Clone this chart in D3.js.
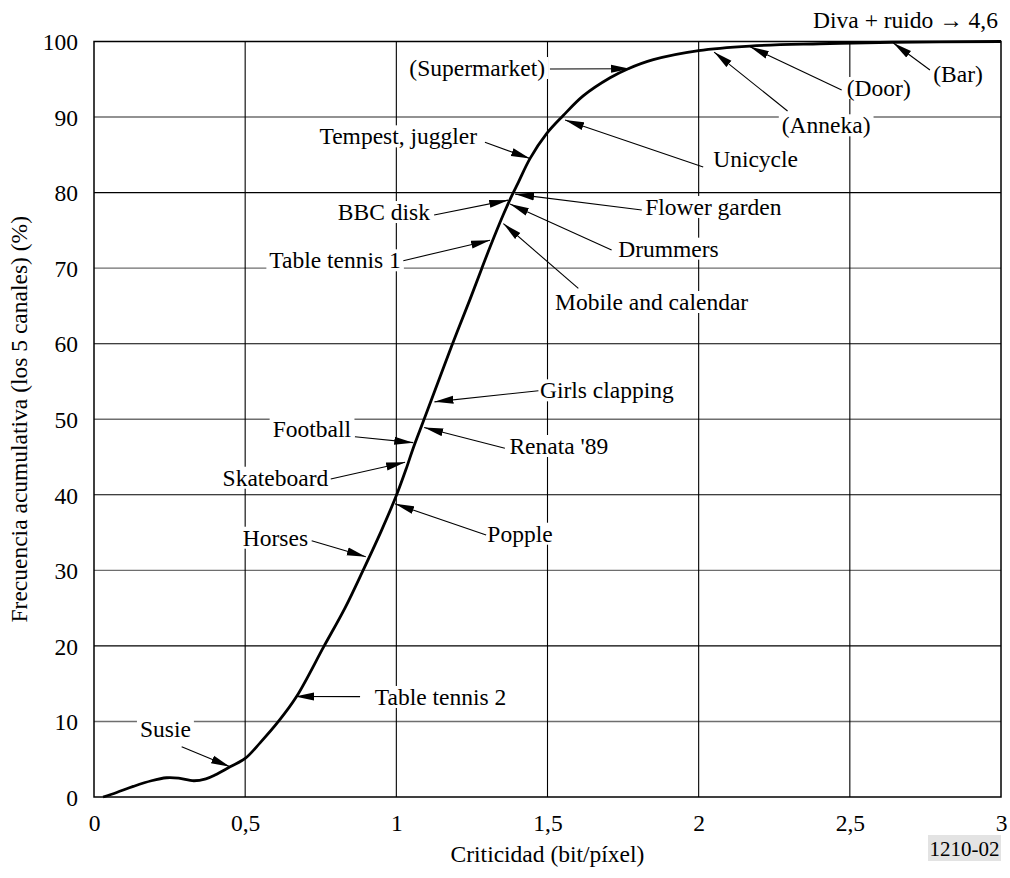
<!DOCTYPE html>
<html><head><meta charset="utf-8">
<script src="https://cdn.jsdelivr.net/npm/d3@7"></script>
<style>
body{margin:0;background:#fff}
svg text{font-family:"Liberation Serif","Times New Roman",serif;fill:#000}
</style>
</head><body><svg id="c" width="1010" height="878"></svg>
<script>
// ---- data ----
const crit = [0.03,0.075,0.13,0.19,0.24,0.28,0.33,0.37,0.4,0.45,0.5,0.55,0.61,0.67,0.76,0.83,0.89,0.95,1.0,1.034,1.056,1.089,1.122,1.183,1.244,1.282,1.31,1.354,1.382,1.404,1.442,1.497,1.552,1.618,1.707,1.767,1.85,2.0,2.17,2.4,2.64,3.0];
const freq = [0,0.6,1.4,2.15,2.55,2.5,2.15,2.4,2.9,4.0,5.1,7.2,10.0,13.3,19.9,25.0,30.0,35.2,39.9,43.6,46.2,49.7,53.2,59.7,65.9,69.9,72.8,77.1,79.6,81.4,84.5,87.8,90.2,92.8,95.2,96.4,97.6,98.8,99.4,99.7,99.9,100];
const xTicks = [0,0.5,1,1.5,2,2.5,3];
const xTickLabels = ["0","0,5","1","1,5","2","2,5","3"];
const yTicks = [0,10,20,30,40,50,60,70,80,90,100];
const yTickLabels = ["0","10","20","30","40","50","60","70","80","90","100"];
const annotNames = ["Susie","Table tennis 2","Horses","Popple","Skateboard","Football","Renata '89","Girls clapping","Table tennis 1","BBC disk","Tempest, juggler","Mobile and calendar","Drummers","Flower garden","Unicycle","(Supermarket)","(Anneka)","(Door)","(Bar)"];
const annotCrit = [0.450,0.665,0.899,0.996,1.029,1.056,1.092,1.126,1.310,1.370,1.442,1.354,1.376,1.393,1.558,1.773,2.051,2.170,2.644];
const annotFreq = [4.0,13.3,31.8,38.8,44.3,46.9,48.9,52.3,73.7,79.0,84.5,75.9,78.5,79.8,89.6,96.4,98.6,99.3,99.8];
// label layout in data units: [lineStartCrit, lineStartFreq, textCrit, textFreq, anchor]
const annotLayout = [
  [0.290,6.66,0.152,7.94,"start"],
  [0.880,13.28,0.929,12.18,"start"],
  [0.720,33.92,0.708,33.26,"end"],
  [1.297,34.68,1.301,33.79,"start"],
  [0.783,42.09,0.775,41.20,"end"],
  [0.863,47.69,0.850,47.69,"end"],
  [1.359,46.16,1.374,45.40,"start"],
  [1.470,53.78,1.475,52.77,"start"],
  [1.023,70.99,1.015,69.98,"end"],
  [1.125,77.04,1.111,76.37,"end"],
  [1.293,86.66,1.267,86.39,"end"],
  [1.602,67.33,1.525,64.46,"start"],
  [1.712,72.40,1.734,71.52,"start"],
  [1.812,77.70,1.823,77.04,"start"],
  [2.015,83.39,2.048,83.43,"start"],
  [1.508,96.36,1.492,95.43,"end"],
  [2.294,90.80,2.275,87.85,"start"],
  [2.473,93.58,2.490,92.79,"start"],
  [2.765,96.23,2.776,94.68,"start"]
];
const xTitle = "Criticidad (bit/píxel)";
const yTitle = "Frecuencia acumulativa (los 5 canales) (%)";
const topNote = "Diva + ruido \u2192 4,6";
const figId = "1210-02";

// ---- drawing ----
const FS = 23.5;
const svg = d3.select("#c");
const x = d3.scaleLinear().domain([0,3]).range([94,1001]);
const y = d3.scaleLinear().domain([0,100]).range([797,41.5]);

svg.append("defs").append("marker")
  .attr("id","ah").attr("viewBox","0 -4.5 19 9")
  .attr("markerWidth",19).attr("markerHeight",9)
  .attr("refX",19).attr("refY",0).attr("orient","auto")
  .attr("markerUnits","userSpaceOnUse")
  .append("path").attr("d","M0,-4L19,0L0,4Z").attr("fill","#000");

// grid
const grid = svg.append("g");
grid.selectAll("line.h").data(yTicks.filter(d=>d>0&&d<100)).join("line")
  .attr("x1",x(0)).attr("x2",x(3)).attr("y1",d=>y(d)).attr("y2",d=>y(d))
  .attr("stroke",d=>(d/10)%2===1?"#6e6e6e":"#000")
  .attr("stroke-width",d=>(d/10)%2===1?1.4:1.1);
grid.selectAll("line.v").data(xTicks.filter(d=>d>0&&d<3)).join("line")
  .attr("y1",y(0)).attr("y2",y(100)).attr("x1",d=>x(d)).attr("x2",d=>x(d))
  .attr("stroke","#000").attr("stroke-width",1.1);

// axes labels
const xa = svg.append("g").attr("transform",`translate(0,${y(0)})`)
  .call(d3.axisBottom(x).tickValues(xTicks).tickFormat((d,i)=>xTickLabels[i]).tickSize(0));
xa.select(".domain").remove();
xa.selectAll("text").attr("y",34).attr("dy",0).style("font-size",FS+"px")
  .style("font-family",'"Liberation Serif","Times New Roman",serif').attr("fill","#000");
const ya = svg.append("g").attr("transform",`translate(${x(0)},0)`)
  .call(d3.axisLeft(y).tickValues(yTicks).tickFormat((d,i)=>yTickLabels[i]).tickSize(0));
ya.select(".domain").remove();
ya.selectAll("text").attr("x",-16).attr("dy","0.35em").style("font-size",FS+"px")
  .style("font-family",'"Liberation Serif","Times New Roman",serif').attr("fill","#000");

// titles
svg.append("text").attr("x",(x(0)+x(3))/2).attr("y",862).attr("text-anchor","middle")
  .style("font-size",FS+"px").text(xTitle);
svg.append("text").attr("transform",`translate(27,${(y(0)+y(100))/2}) rotate(-90)`)
  .attr("text-anchor","middle").style("font-size",FS+"px").text(yTitle);
svg.append("text").attr("x",x(3)-3).attr("y",y(100)-14).attr("text-anchor","end")
  .style("font-size",FS+"px").text(topNote);
svg.append("rect").attr("x",928).attr("y",835).attr("width",73).attr("height",26).attr("fill","#e3e3e3");
svg.append("text").attr("x",964.5).attr("y",856).attr("text-anchor","middle")
  .style("font-size","21px").text(figId);

// annotation labels with white backgrounds
const ann = svg.append("g");
annotNames.forEach((name,i)=>{
  const L = annotLayout[i];
  const g = ann.append("g");
  const t = g.append("text").attr("x",x(L[2])).attr("y",y(L[3]))
    .attr("text-anchor",L[4]).style("font-size",FS+"px").text(name);
  const b = t.node().getBBox();
  g.insert("rect","text").attr("x",b.x-3).attr("y",b.y+2).attr("width",b.width+6).attr("height",b.height-4)
    .attr("fill","#fff");
});

// frame
svg.append("rect").attr("x",x(0)).attr("y",y(100)).attr("width",x(3)-x(0)).attr("height",y(0)-y(100))
  .attr("fill","none").attr("stroke","#000").attr("stroke-width",1.5);

// curve
const line = d3.line().x((d,i)=>x(crit[i])).y((d,i)=>y(freq[i])).curve(d3.curveCatmullRom.alpha(0.5));
svg.append("path").datum(freq).attr("d",line).attr("fill","none")
  .attr("stroke","#000").attr("stroke-width",2.8).attr("stroke-linejoin","round");

// leader arrows
annotNames.forEach((name,i)=>{
  const L = annotLayout[i];
  svg.append("line").attr("x1",x(L[0])).attr("y1",y(L[1]))
    .attr("x2",x(annotCrit[i])).attr("y2",y(annotFreq[i]))
    .attr("stroke","#000").attr("stroke-width",1.1).attr("marker-end","url(#ah)");
});
</script></body></html>
